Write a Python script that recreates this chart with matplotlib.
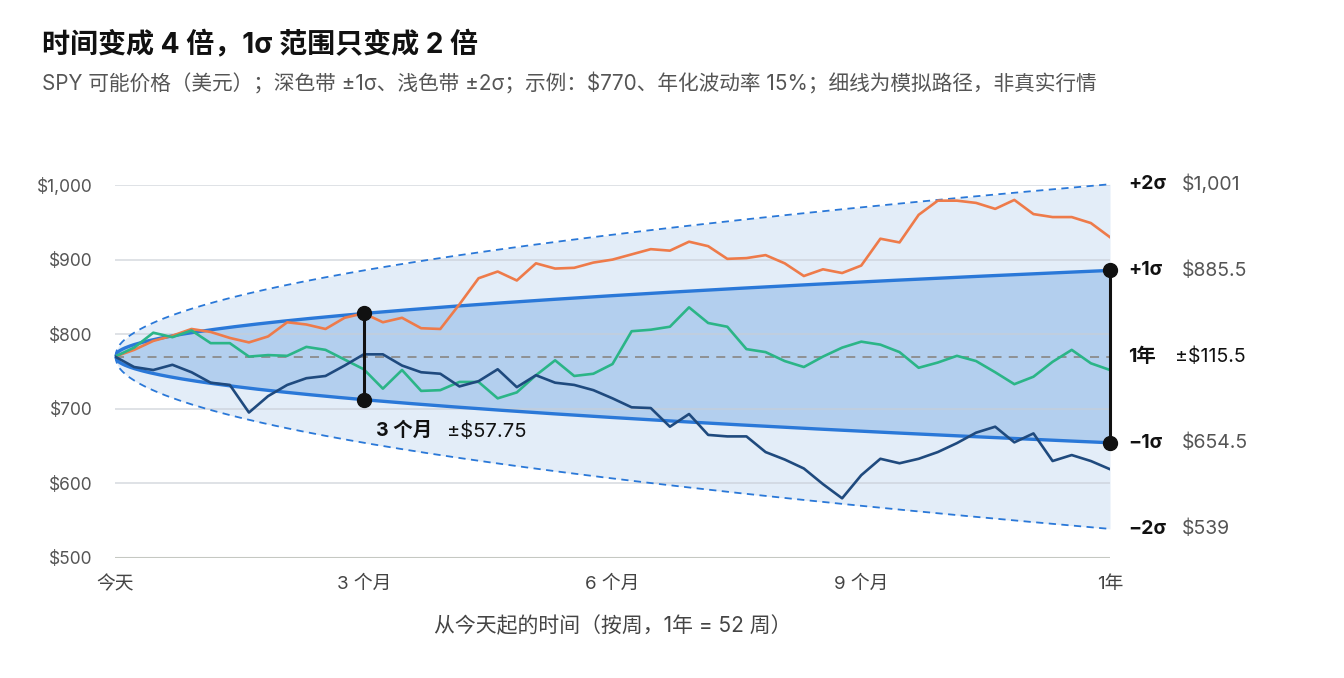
import numpy as np
import matplotlib
matplotlib.use("Agg")
import matplotlib.pyplot as plt

plt.rcParams['font.family'] = ['Inter', 'Noto Sans CJK SC', 'DejaVu Sans']

# ---- data ----
spot = 770.0
vol = 0.15
weeks = np.arange(0, 53)
orange = [770, 779, 791, 798, 807, 803, 795, 789, 797, 816, 813, 807, 822, 828, 816, 822,
          808, 807, 840, 875, 884, 872, 895, 888, 889, 896, 900, 907, 914, 912, 924, 918,
          901, 902, 906, 895, 878, 887, 882, 892, 928, 923, 960, 979, 979, 976, 968, 980,
          961, 957, 957, 949, 930]
green = [770, 782, 802, 796, 805, 788, 788, 770, 772, 771, 783, 779, 766, 753, 727, 752,
         724, 725, 736, 736, 714, 722, 745, 765, 744, 747, 760, 804, 806, 810, 836, 815,
         810, 780, 776, 764, 756, 770, 782, 790, 786, 776, 755, 762, 771, 764, 749, 733,
         743, 763, 779, 761, 752]
navy = [770, 756, 752, 759, 749, 735, 732, 695, 717, 732, 741, 744, 758, 773, 773, 758,
        749, 747, 730, 737, 753, 729, 745, 735, 732, 725, 714, 702, 701, 676, 693, 665,
        663, 663, 642, 632, 620, 599, 580, 611, 633, 627, 633, 642, 654, 668, 676, 655,
        667, 630, 638, 630, 619]
xticks = [0, 13, 26, 39, 52]
xticklabels = ['今天', '3 个月', '6 个月', '9 个月', '1年']
yticks = [500, 600, 700, 800, 900, 1000]
yticklabels = ['$500', '$600', '$700', '$800', '$900', '$1,000']

# ---- band model ----
tt = np.linspace(0, 52, 400)
s1 = spot * vol * np.sqrt(tt / 52)

C_LIGHT = '#e3edf8'
C_DARK = '#b3cfee'
C_BLUE = '#2a78d8'
C_OR = '#ee7b4a'
C_GR = '#2bb587'
C_NV = '#1f4a7e'

fig = plt.figure(figsize=(13.44, 6.78), dpi=100)
ax = fig.add_axes([115/1344, 1 - 558/678, (1110-115)/1344, (558-185)/678])
ax.set_xlim(0, 52)
ax.set_ylim(500, 1000)

ax.fill_between(tt, spot - 2*s1, spot + 2*s1, color=C_LIGHT, lw=0, zorder=1, clip_on=False)
ax.fill_between(tt, spot - s1, spot + s1, color=C_DARK, lw=0, zorder=2, clip_on=False)

for yv in yticks[1:]:
    ax.axhline(yv, color='#c9ced6', lw=1.2, alpha=0.7, zorder=3)
ax.axhline(500, color='#c5c8c2', lw=1.5, zorder=3)

ax.plot(tt, spot + 2*s1, color=C_BLUE, lw=1.3, ls=(0, (4, 3)), zorder=4, clip_on=False)
ax.plot(tt, spot - 2*s1, color=C_BLUE, lw=1.3, ls=(0, (4, 3)), zorder=4, clip_on=False)
ax.axhline(spot, color='#8c8c8c', lw=1.3, ls=(0, (5, 4)), zorder=4)
ax.plot(tt, spot + s1, color=C_BLUE, lw=2.4, zorder=5)
ax.plot(tt, spot - s1, color=C_BLUE, lw=2.4, zorder=5)

ax.plot(weeks, orange, color=C_OR, lw=1.9, zorder=6)
ax.plot(weeks, green, color=C_GR, lw=1.9, zorder=6)
ax.plot(weeks, navy, color=C_NV, lw=1.9, zorder=6)

# markers at 3 months and 1 year
for w in (13, 52):
    sw = spot * vol * np.sqrt(w / 52)
    ax.plot([w, w], [spot - sw, spot + sw], color='#111111', lw=2.2, zorder=7, clip_on=False)
    ax.plot([w, w], [spot - sw, spot + sw], 'o', color='#111111', ms=10, zorder=8, clip_on=False)

s3 = spot * vol * np.sqrt(13 / 52)
ax.annotate('3 个月', xy=(13, spot - s3), xytext=(9, -16), textcoords='offset points',
            ha='left', va='top', fontsize=14, fontweight='bold', color='#111111')
ax.annotate(f'±${s3:.2f}', xy=(13, spot - s3), xytext=(60, -16), textcoords='offset points',
            ha='left', va='top', fontsize=14.5, color='#111111')

sY = spot * vol
right = [('+2σ', f'${spot + 2*sY:,.0f}', spot + 2*sY, '#555555'),
         ('+1σ', f'${spot + sY:,.1f}', spot + sY, '#555555'),
         ('1年', f'±${sY:.1f}', spot, '#111111'),
         ('−1σ', f'${spot - sY:,.1f}', spot - sY, '#555555'),
         ('−2σ', f'${spot - 2*sY:,.0f}', spot - 2*sY, '#555555')]
for lab, val, yv, vc in right:
    ax.annotate(lab, xy=(52, yv), xytext=(13, 0), textcoords='offset points',
                ha='left', va='center', fontsize=14, fontweight='bold', color='#111111',
                annotation_clip=False)
    xo = 47 if lab == '1年' else 52
    ax.annotate(val, xy=(52, yv), xytext=(xo, 0), textcoords='offset points',
                ha='left', va='center', fontsize=14, color=vc, annotation_clip=False)

ax.set_xticks(xticks)
ax.set_xticklabels(xticklabels, fontsize=13.5, color='#444444')
ax.set_yticks(yticks)
ax.set_yticklabels(yticklabels, fontsize=12.5, color='#555555')
ax.tick_params(axis='x', length=0, pad=13)
ax.tick_params(axis='y', length=0, pad=16)
for sp in ax.spines.values():
    sp.set_visible(False)
ax.set_xlabel('从今天起的时间（按周，1年 = 52 周）', fontsize=15, color='#444444', labelpad=16)

fig.text(42/1344, 1 - 45/678, '时间变成 4 倍，1σ 范围只变成 2 倍', fontsize=20.2,
         fontweight='bold', color='#111111', va='center', ha='left')
fig.text(42/1344, 1 - 84/678,
         'SPY 可能价格（美元）；深色带 ±1σ、浅色带 ±2σ；示例：$770、年化波动率 15%；细线为模拟路径，非真实行情',
         fontsize=14.9, color='#555555', va='center', ha='left')

fig.savefig('out.png', dpi=100)
